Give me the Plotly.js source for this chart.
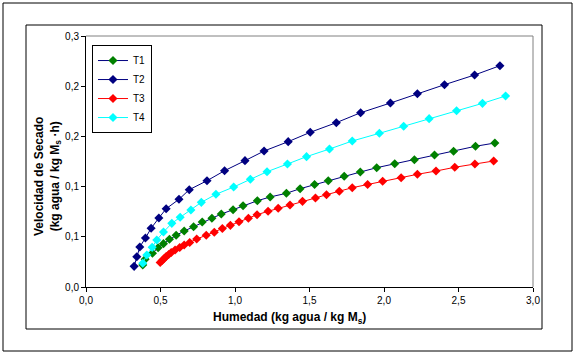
<!DOCTYPE html>
<html>
<head>
<meta charset="utf-8">
<script src="https://cdn.plot.ly/plotly-3.0.1.min.js"></script>
<style>html,body{margin:0;padding:0;background:#fff;}#chart{width:577px;height:355px;}</style>
</head>
<body>
<div id="chart"></div>
<script>
// T1 (green markers)
const t1X = [0.381,0.397,0.446,0.484,0.520,0.560,0.605,0.659,0.722,0.780,0.845,0.908,0.987,1.054,1.150,1.236,1.345,1.437,1.534,1.626,1.733,1.841,1.951,2.072,2.204,2.339,2.467,2.614,2.744];
const t1Y = [0.0263,0.0331,0.0403,0.0470,0.0518,0.0570,0.0618,0.0669,0.0721,0.0777,0.0821,0.0872,0.0924,0.0972,0.1031,0.1076,0.1120,0.1175,0.1225,0.1270,0.1323,0.1374,0.1426,0.1474,0.1521,0.1578,0.1622,0.1682,0.1721];
// T2 (navy)
const t2X = [0.323,0.341,0.361,0.399,0.437,0.489,0.538,0.624,0.693,0.812,0.930,1.067,1.195,1.357,1.505,1.680,1.843,2.043,2.224,2.406,2.608,2.778];
const t2Y = [0.0247,0.0362,0.0478,0.0586,0.0702,0.0825,0.0936,0.1048,0.1163,0.1270,0.1390,0.1510,0.1625,0.1737,0.1849,0.1964,0.2083,0.2199,0.2310,0.2418,0.2534,0.2645];
// T3 (red)
const t3X = [0.498,0.511,0.525,0.538,0.555,0.572,0.598,0.629,0.659,0.696,0.743,0.807,0.861,0.915,0.969,1.027,1.090,1.148,1.222,1.290,1.369,1.453,1.540,1.614,1.700,1.787,1.890,1.991,2.115,2.224,2.349,2.475,2.610,2.736];
const t3Y = [0.0293,0.0317,0.0341,0.0365,0.0388,0.0412,0.0442,0.0472,0.0502,0.0532,0.0574,0.0618,0.0654,0.0699,0.0737,0.0780,0.0821,0.0864,0.0905,0.0941,0.0980,0.1024,0.1064,0.1103,0.1145,0.1187,0.1225,0.1264,0.1306,0.1347,0.1386,0.1431,0.1470,0.1506];
// T4 (cyan)
const t4X = [0.381,0.408,0.444,0.475,0.520,0.576,0.632,0.704,0.774,0.872,0.991,1.103,1.215,1.352,1.480,1.634,1.787,1.969,2.132,2.303,2.487,2.661,2.816];
const t4Y = [0.0283,0.0382,0.0474,0.0562,0.0657,0.0761,0.0833,0.0920,0.1012,0.1108,0.1195,0.1287,0.1378,0.1470,0.1558,0.1649,0.1745,0.1837,0.1921,0.2012,0.2107,0.2195,0.2283];

const seriesNames = ['T1','T2','T3','T4'];
const xTickVals = [0,0.5,1,1.5,2,2.5,3];
const xTickText = ['0,0','0,5','1,0','1,5','2,0','2,5','3,0'];
const yTickVals = [0,0.06,0.12,0.18,0.24,0.30];
const yTickText = ['0,0','0,1','0,1','0,2','0,2','0,3'];

const FONT = '"Liberation Sans", Arial, sans-serif';

function tr(x, y, name, lineColor, markerColor) {
  return {
    x: x, y: y, name: name, type: 'scatter', mode: 'lines+markers',
    line: {color: lineColor, width: 1},
    marker: {symbol: 'diamond', size: 7, color: markerColor, line: {width: 0}}
  };
}

const data = [
  tr(t1X, t1Y, seriesNames[0], '#000080', '#008000'),
  tr(t2X, t2Y, seriesNames[1], '#000080', '#000080'),
  tr(t3X, t3Y, seriesNames[2], '#FF0000', '#FF0000'),
  tr(t4X, t4Y, seriesNames[3], '#00FFFF', '#00FFFF')
];

const layout = {
  width: 577, height: 355,
  margin: {l: 86, r: 44, t: 36, b: 68},
  paper_bgcolor: '#fff', plot_bgcolor: '#fff',
  font: {family: FONT, size: 10, color: '#000'},
  showlegend: true,
  legend: {
    x: 0.0134, y: 0.964, xanchor: 'left', yanchor: 'top',
    bgcolor: '#fff', bordercolor: '#000', borderwidth: 1,
    font: {family: FONT, size: 10, color: '#000'},
    tracegroupgap: 0, itemwidth: 30
  },
  xaxis: {
    range: [0, 3], tickvals: xTickVals, ticktext: xTickText,
    showgrid: false, zeroline: false, showline: true, linecolor: '#000', linewidth: 1,
    ticks: 'outside', ticklen: 4, tickcolor: '#000', tickfont: {family: FONT, size: 10, color: '#000'}
  },
  yaxis: {
    range: [0, 0.3], tickvals: yTickVals, ticktext: yTickText,
    showgrid: false, zeroline: false, showline: true, linecolor: '#000', linewidth: 1,
    ticks: 'outside', ticklen: 4, tickcolor: '#000', tickfont: {family: FONT, size: 10, color: '#000'}
  },
  annotations: [
    {text: '<b>Humedad (kg agua / kg M<sub>s</sub>)</b>', xref: 'paper', yref: 'paper',
     x: (289 - 86) / 447, y: (287 - 318) / 251, xanchor: 'center', yanchor: 'middle',
     showarrow: false, font: {family: FONT, size: 12, color: '#000'}},
    {text: '<b>Velocidad de Secado<br>(kg agua / kg M<sub>s</sub> ·h)</b>', xref: 'paper', yref: 'paper',
     x: (47 - 86) / 447, y: (287 - 177) / 251, xanchor: 'center', yanchor: 'middle', textangle: -90,
     showarrow: false, font: {family: FONT, size: 12, color: '#000'}}
  ],
  shapes: [
    {type: 'line', xref: 'paper', yref: 'paper', x0: 0, x1: 1, y0: 1, y1: 1, line: {color: '#808080', width: 1}},
    {type: 'line', xref: 'paper', yref: 'paper', x0: 1, x1: 1, y0: 0, y1: 1, line: {color: '#808080', width: 1}},
    {type: 'rect', xref: 'paper', yref: 'paper', x0: (26 - 86) / 447, x1: (542 - 86) / 447, y0: (287 - 329) / 251, y1: (287 - 25) / 251, line: {color: '#000', width: 1}},
    {type: 'rect', xref: 'paper', yref: 'paper', x0: (3 - 86) / 447, x1: (572 - 86) / 447, y0: (287 - 351) / 251, y1: (287 - 3) / 251, line: {color: '#000', width: 1}}
  ]
};

Plotly.newPlot('chart', data, layout, {displayModeBar: false, staticPlot: true});
</script>
</body>
</html>
